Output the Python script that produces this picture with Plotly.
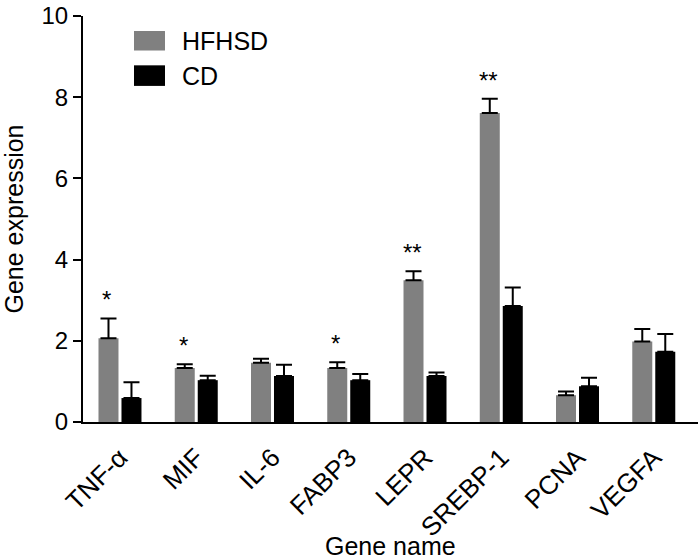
import plotly.graph_objects as go

genes = ["TNF-α", "MIF", "IL-6", "FABP3", "LEPR", "SREBP-1", "PCNA", "VEGFA"]
hfhsd = [2.06, 1.33, 1.46, 1.33, 3.49, 7.61, 0.66, 1.98]
hfhsd_err = [0.49, 0.09, 0.10, 0.14, 0.22, 0.35, 0.09, 0.31]
cd = [0.59, 1.03, 1.13, 1.03, 1.13, 2.86, 0.88, 1.73]
cd_err = [0.39, 0.11, 0.28, 0.15, 0.09, 0.45, 0.21, 0.44]
signif = ["*", "*", "", "*", "**", "**", "", ""]
series_names = ["HFHSD", "CD"]
series_colors = ["#808080", "#000000"]
x_title = "Gene name"
y_title = "Gene expression"

font = "Liberation Sans, Arial, sans-serif"

fig = go.Figure()
for name, vals, errs, col in zip(series_names, [hfhsd, cd], [hfhsd_err, cd_err], series_colors):
    fig.add_trace(go.Bar(
        name=name, x=genes, y=vals, marker=dict(color=col, line=dict(width=0)),
        error_y=dict(type="data", array=errs, arrayminus=[0] * len(genes), symmetric=False,
                     color="black", thickness=2, width=8),
        showlegend=False,
    ))

for g, v, e, s in zip(genes, hfhsd, hfhsd_err, signif):
    if s:
        fig.add_annotation(x=g, y=v + e, text=s, showarrow=False, xshift=-13,
                           yanchor="bottom", yshift=3, font=dict(size=24, color="black", family=font))

# manual legend (large swatches like the reference)
legend_rows = [(0.963, 0.915, 0.939), (0.8785, 0.8278, 0.853)]
for (top, bot, mid), name, col in zip(legend_rows, series_names, series_colors):
    fig.add_shape(type="rect", xref="paper", yref="paper", x0=0.0829, x1=0.1333, y0=bot, y1=top,
                  fillcolor=col, line=dict(width=0))
    fig.add_annotation(xref="paper", yref="paper", x=0.157, y=mid, text=name, showarrow=False,
                       xanchor="left", yanchor="middle", font=dict(size=25, color="black", family=font))

# x-axis title placed as annotation at the bottom
fig.add_annotation(xref="paper", yref="paper", x=0.5, y=-0.305, text=x_title, showarrow=False,
                   xanchor="center", yanchor="middle", font=dict(size=25, color="black", family=font))

fig.update_layout(
    width=700, height=559,
    margin=dict(l=83, r=2, t=9, b=137),
    plot_bgcolor="white", paper_bgcolor="white",
    barmode="group", bargap=0.397, bargroupgap=0.13,
    font=dict(family=font, color="black", size=24),
    showlegend=False,
)
fig.update_xaxes(
    range=[-0.485, 7.58], showline=True, linecolor="black", linewidth=2,
    ticks="outside", ticklen=8, tickcolor="rgba(0,0,0,0)", tickangle=-45,
    tickfont=dict(size=26, family=font), automargin=False,
)
fig.update_yaxes(
    range=[0, 10], tickvals=[0, 2, 4, 6, 8, 10], showline=True, linecolor="black", linewidth=2,
    ticks="outside", ticklen=8, tickwidth=2, tickcolor="black", showgrid=False, zeroline=False,
    tickfont=dict(size=24, family=font), ticklabeloverflow="allow",
    title=dict(text=y_title, font=dict(size=25, family=font), standoff=12),
)

fig.write_html("out.html", config={"displayModeBar": False},
               post_script="document.body.style.margin='0';")
